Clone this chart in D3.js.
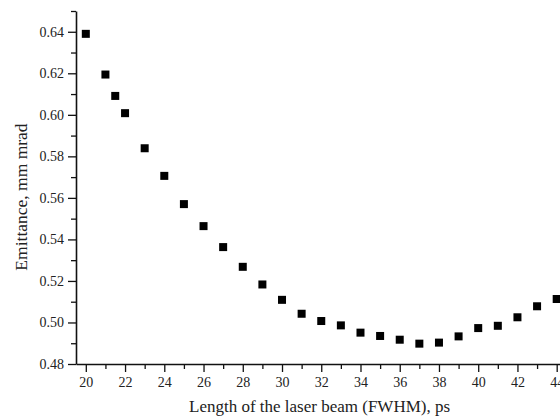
<!DOCTYPE html>
<html>
<head>
<meta charset="utf-8">
<script src="https://cdn.jsdelivr.net/npm/d3@7"></script>
<style>
  body { margin: 0; background: #fff; }
  svg { display: block; font-family: "Liberation Serif", "Times New Roman", serif; }
</style>
</head>
<body>
<div id="chart"></div>
<script>
// pulse length (ps) and measured emittance (mm mrad)
var lengths = [20, 21, 21.5, 22, 23, 24, 25, 26, 27, 28, 29, 30, 31, 32, 33, 34, 35, 36, 37, 38, 39, 40, 41, 42, 43, 44];
var emittance = [0.639, 0.6194, 0.6091, 0.6008, 0.5839, 0.5706, 0.557, 0.5464, 0.5363, 0.5268, 0.5183, 0.5109,
                 0.5042, 0.5007, 0.4986, 0.4951, 0.4935, 0.4917, 0.4898, 0.4903, 0.4933, 0.4973, 0.4984, 0.5025, 0.5078, 0.5113];
var xTicks = [20, 22, 24, 26, 28, 30, 32, 34, 36, 38, 40, 42, 44];
var xMinor = [21, 23, 25, 27, 29, 31, 33, 35, 37, 39, 41, 43];
var yTicks = [0.48, 0.50, 0.52, 0.54, 0.56, 0.58, 0.60, 0.62, 0.64];
var yMinor = [0.49, 0.51, 0.53, 0.55, 0.57, 0.59, 0.61, 0.63, 0.65];

function main() {
    var W = 560, H = 419;
    var left = 76, top = 11, bottom = 364;

    var data = lengths.map(function(d, i) { return {x: d, y: emittance[i]}; });

    var xScale = d3.scaleLinear().domain([19.5, 44.5]).range([left, left + 25 * 19.62]);
    var yScale = d3.scaleLinear().domain([0.48, 0.65]).range([bottom, top]);

    var svg = d3.select("#chart").append("svg")
        .attr("width", W)
        .attr("height", H);

    // minor ticks first, then major axes on top
    svg.append("g")
        .attr("transform", "translate(0," + bottom + ")")
        .call(d3.axisBottom(xScale).tickValues(xMinor).tickFormat("").tickSize(5).tickSizeOuter(0))
        .call(function(g) { g.select(".domain").remove(); });

    svg.append("g")
        .attr("transform", "translate(" + left + ",0)")
        .call(d3.axisLeft(yScale).tickValues(yMinor).tickFormat("").tickSize(5).tickSizeOuter(0))
        .call(function(g) { g.select(".domain").remove(); });

    svg.append("g")
        .attr("transform", "translate(0," + bottom + ")")
        .call(d3.axisBottom(xScale).tickValues(xTicks).tickFormat(d3.format("d")).tickSize(8).tickSizeOuter(0).tickPadding(5));

    svg.append("g")
        .attr("transform", "translate(" + left + ",0)")
        .call(d3.axisLeft(yScale).tickValues(yTicks).tickFormat(d3.format(".2f")).tickSize(8).tickSizeOuter(0).tickPadding(4));

    svg.selectAll(".domain").attr("stroke", "#111").attr("stroke-width", 1.6);
    svg.selectAll(".tick line").attr("stroke", "#111").attr("stroke-width", 1.3);
    svg.selectAll(".tick text")
        .attr("fill", "#222")
        .style("font-family", "'Liberation Serif', serif")
        .style("font-size", "14px");

    // points
    svg.selectAll("rect.pt")
        .data(data)
        .enter().append("rect")
        .attr("class", "pt")
        .attr("x", function(d) { return xScale(d.x) - 4; })
        .attr("y", function(d) { return yScale(d.y) - 4; })
        .attr("width", 8)
        .attr("height", 8)
        .attr("fill", "#000");

    svg.append("text")
        .attr("text-anchor", "start")
        .attr("x", 189)
        .attr("y", 412)
        .attr("fill", "#222")
        .style("font-size", "17px")
        .text("Length of the laser beam (FWHM), ps");

    svg.append("text")
        .attr("text-anchor", "middle")
        .attr("transform", "translate(27,197) rotate(-90)")
        .attr("fill", "#222")
        .style("font-size", "17.5px")
        .text("Emittance, mm mrad");
}
main();
</script>
</body>
</html>
